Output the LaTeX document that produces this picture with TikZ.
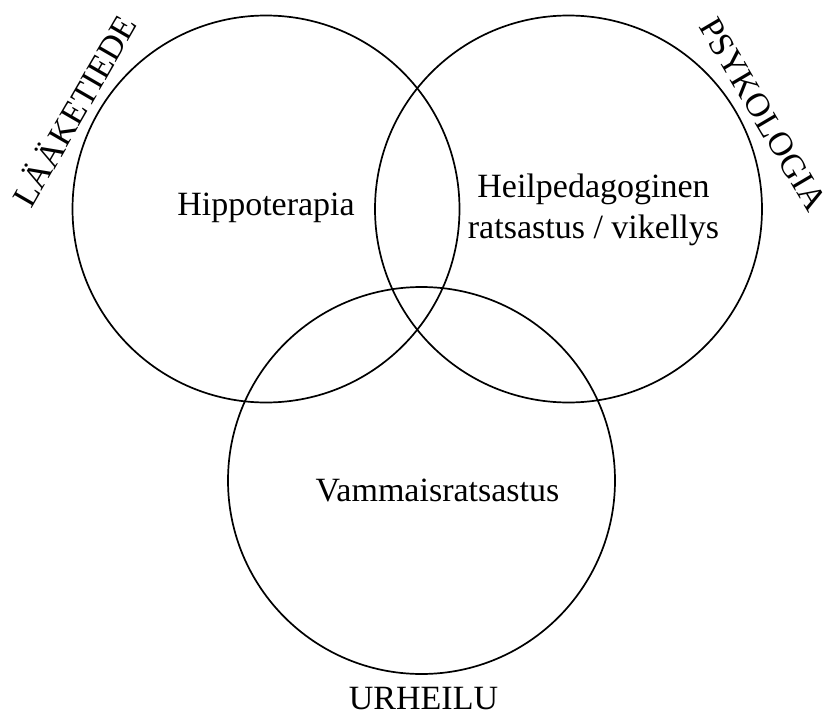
\documentclass[tikz,border=0pt]{standalone}
\usepackage{fontspec}
\setmainfont{Liberation Serif}
\begin{document}
\begin{tikzpicture}[x=1pt,y=-1pt,
  ring/.style={draw=black,line width=1.7pt},
  lbl/.style={inner sep=0pt,font=\fontsize{34}{41}\selectfont}]
\useasboundingbox (0,0) rectangle (825,712);
\draw[ring] (266,209) circle[radius=193.5] coordinate (cL);
\draw[ring] (568.5,209) circle[radius=193.5] coordinate (cR);
\draw[ring] (421.5,480.5) circle[radius=193.5] coordinate (cB);
\node[lbl,anchor=base] (hippo) at (266,215) {Hippoterapia};
\node[lbl,anchor=base] (heil1) at (593.5,197) {Heilpedagoginen};
\node[lbl,anchor=base] (heil2) at (593.5,238) {ratsastus / vikellys};
\node[lbl,anchor=base] (vamm) at (437.5,501) {Vammaisratsastus};
\node[lbl,anchor=base] (urh) at (423.5,709) {URHEILU};
\node[lbl,rotate=60] (laak) at (73,110) {LÄÄKETIEDE};
\node[lbl,rotate=-59.5] (psyk) at (763,114) {PSYKOLOGIA};
\end{tikzpicture}
\end{document}
